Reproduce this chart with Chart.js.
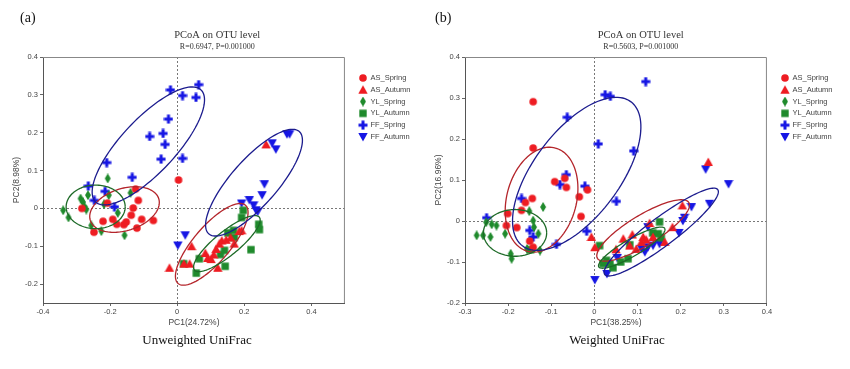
<!DOCTYPE html>
<html>
<head>
<meta charset="utf-8">
<script src="https://cdn.jsdelivr.net/npm/chart.js@4/dist/chart.umd.min.js"></script>
<style>
  body { margin: 0; background: #fff; width: 850px; height: 369px; position: relative; overflow: hidden; }
  .panel { position: absolute; top: 0; width: 425px; height: 369px; }
  .tag { position: absolute; top: 11px; font: 14px "Liberation Serif", serif; line-height: 1; color: #111; }
  .caption { position: absolute; top: 333px; width: 200px; text-align: center; font: 13px "Liberation Serif", serif; line-height: 1; color: #111; }
</style>
</head>
<body>
<div class="panel" style="left:0"><canvas id="chartA" width="425" height="369"></canvas></div>
<div class="panel" style="left:425px"><canvas id="chartB" width="425" height="369"></canvas></div>
<div class="tag" style="left:20px">(a)</div>
<div class="tag" style="left:435px">(b)</div>
<div class="caption" style="left:97px">Unweighted UniFrac</div>
<div class="caption" style="left:517px">Weighted UniFrac</div>
<script>
const groups = ['AS_Spring', 'AS_Autumn', 'YL_Spring', 'YL_Autumn', 'FF_Spring', 'FF_Autumn'];

// panel (a) unweighted UniFrac, [PC1, PC2]
const asSpringA = [[-0.284, 0.000], [-0.208, 0.014], [-0.124, 0.051], [-0.116, 0.021], [-0.131, 0.001], [-0.137, -0.018],
  [-0.106, -0.029], [-0.071, -0.032], [-0.221, -0.034], [-0.192, -0.029], [-0.180, -0.042], [-0.159, -0.043],
  [-0.152, -0.036], [-0.120, -0.052], [-0.248, -0.063], [0.004, 0.075]];
const asAutumnA = [[-0.023, -0.157], [0.043, -0.100], [0.020, -0.146], [0.037, -0.146], [0.084, -0.118], [0.091, -0.131],
  [0.101, -0.134], [0.109, -0.122], [0.121, -0.157], [0.116, -0.107], [0.126, -0.093], [0.133, -0.085],
  [0.146, -0.083], [0.159, -0.077], [0.170, -0.093], [0.185, -0.060], [0.192, -0.058], [0.265, 0.169]];
const ylSpringA = [[-0.340, -0.005], [-0.324, -0.024], [-0.288, 0.026], [-0.281, 0.017], [-0.276, 0.004], [-0.271, -0.003],
  [-0.266, 0.035], [-0.256, -0.045], [-0.226, -0.060], [-0.218, 0.011], [-0.207, 0.079], [-0.204, 0.035],
  [-0.177, -0.012], [-0.157, -0.071], [-0.139, 0.041]];
const ylAutumnA = [[0.019, -0.146], [0.057, -0.171], [0.066, -0.133], [0.141, -0.111], [0.143, -0.153], [0.129, -0.122],
  [0.151, -0.065], [0.168, -0.058], [0.170, -0.077], [0.192, -0.024], [0.197, -0.005], [0.220, -0.109],
  [0.243, -0.042], [0.245, -0.056]];
const ffSpringA = [[0.064, 0.327], [-0.020, 0.313], [0.016, 0.298], [0.056, 0.293], [-0.026, 0.236], [-0.082, 0.190],
  [-0.042, 0.198], [-0.036, 0.169], [-0.048, 0.130], [0.016, 0.132], [-0.210, 0.121], [-0.134, 0.082],
  [-0.265, 0.059], [-0.215, 0.045], [-0.247, 0.021], [-0.187, 0.004]];
const ffAutumnA = [[0.002, -0.098], [0.024, -0.071], [0.192, 0.013], [0.215, 0.022], [0.228, 0.008], [0.235, -0.005],
  [0.240, -0.009], [0.253, 0.035], [0.260, 0.064], [0.283, 0.172], [0.294, 0.156], [0.327, 0.196], [0.335, 0.196]];

// panel (b) weighted UniFrac
const asSpringB = [[-0.142, 0.291], [-0.142, 0.178], [-0.092, 0.096], [-0.069, 0.104], [-0.065, 0.082], [-0.016, 0.076],
  [-0.035, 0.059], [-0.031, 0.011], [-0.144, 0.055], [-0.160, 0.045], [-0.169, 0.026], [-0.201, 0.018],
  [-0.204, -0.011], [-0.180, -0.016], [-0.150, -0.049], [-0.142, -0.064]];
const asAutumnB = [[-0.007, -0.039], [0.001, -0.064], [0.050, -0.069], [0.067, -0.043], [0.088, -0.033], [0.097, -0.068],
  [0.109, -0.051], [0.113, -0.039], [0.128, -0.005], [0.136, -0.039], [0.163, -0.051], [0.181, -0.015],
  [0.204, 0.038], [0.264, 0.144], [0.082, -0.060], [0.120, -0.045]];
const ylSpringB = [[-0.273, -0.035], [-0.258, -0.035], [-0.241, -0.039], [-0.251, -0.003], [-0.238, -0.008], [-0.227, -0.011],
  [-0.207, -0.031], [-0.194, -0.080], [-0.192, -0.092], [-0.151, 0.024], [-0.142, 0.001], [-0.140, -0.015],
  [-0.130, -0.031], [-0.126, -0.072], [-0.119, 0.034], [-0.156, -0.068]];
const ylAutumnB = [[0.012, -0.060], [0.082, -0.058], [0.135, -0.029], [0.148, -0.031], [0.155, -0.041], [0.151, -0.002],
  [0.028, -0.096], [0.036, -0.104], [0.043, -0.114], [0.061, -0.100], [0.078, -0.092], [0.020, -0.104], [-0.148, -0.070]];
const ffSpringB = [[-0.250, 0.008], [-0.169, 0.055], [-0.150, -0.023], [-0.142, -0.039], [-0.088, -0.057], [-0.080, 0.089],
  [-0.065, 0.113], [-0.063, 0.253], [-0.022, 0.085], [0.009, 0.188], [0.025, 0.308], [0.037, 0.304],
  [0.051, 0.048], [0.091, 0.171], [0.119, 0.340], [-0.018, -0.025]];
const ffAutumnB = [[0.001, -0.144], [0.029, -0.129], [0.053, -0.090], [0.109, -0.068], [0.117, -0.076], [0.124, -0.064],
  [0.136, -0.060], [0.151, -0.056], [0.124, -0.015], [0.196, -0.029], [0.205, 0.000], [0.209, 0.008],
  [0.225, 0.034], [0.267, 0.042], [0.258, 0.126], [0.311, 0.090]];

// confidence ellipses: [centre x, centre y, half-axis 1 (x, y), half-axis 2 (x, y)]
const ellipsesA = [
  [-0.157, -0.003, 0.102, 0.0287, 0.0188, -0.053],
  [0.103, -0.095, 0.1004, 0.1034, 0.0405, -0.0312],
  [-0.243, 0.004, 0.088, 0, 0, 0.0575],
  [0.148, -0.093, 0.0968, 0.0698, 0.0224, -0.0248],
  [-0.086, 0.165, 0.157, 0.148, 0.0583, -0.0491],
  [0.229, 0.068, 0.135, 0.135, 0.0511, -0.0406]
];
const ellipsesB = [
  [-0.1225, 0.052, 0.032, 0.126, 0.078, -0.022],
  [0.113, -0.023, 0.106, 0.068, 0.018, -0.0314],
  [-0.184, -0.029, 0.0733, 0, 0, 0.057],
  [0.0866, -0.065, 0.0764, 0.0469, 0.0099, -0.018],
  [-0.041, 0.115, 0.1259, 0.1756, 0.0793, -0.0636],
  [0.155, -0.027, 0.131, 0.1035, 0.0194, -0.0275]
];

const xTicksA = [-0.4, -0.2, 0, 0.2, 0.4];
const xTicksB = [-0.3, -0.2, -0.1, 0, 0.1, 0.2, 0.3, 0.4];
const yTicks = [-0.2, -0.1, 0, 0.1, 0.2, 0.3, 0.4];

const shapes = ['circle', 'triangle', 'diamond', 'square', 'plus', 'down'];
const fills = ['#ee1c22', '#ee1c22', '#1f8a2c', '#1f8a2c', '#1616e4', '#1616e4'];
const ringColors = ['#b4252b', '#b4252b', '#1d6a27', '#1d6a27', '#1c1c8e', '#1c1c8e'];

function makeMarker(shape, color) {
  const c = document.createElement('canvas');
  c.width = 10; c.height = 10;
  const g = c.getContext('2d');
  g.fillStyle = color;
  g.beginPath();
  if (shape === 'circle') g.arc(5, 5, 3.8, 0, Math.PI * 2);
  else if (shape === 'triangle') { g.moveTo(5, 0.6); g.lineTo(9.7, 9); g.lineTo(0.3, 9); }
  else if (shape === 'down') { g.moveTo(0.3, 1); g.lineTo(9.7, 1); g.lineTo(5, 9.4); }
  else if (shape === 'diamond') { g.moveTo(5, 0); g.lineTo(8, 5); g.lineTo(5, 10); g.lineTo(2, 5); }
  else if (shape === 'square') g.rect(1.3, 1.3, 7.4, 7.4);
  else if (shape === 'plus') { g.rect(3.5, 0.5, 3, 9); g.rect(0.5, 3.5, 9, 3); }
  g.closePath();
  g.fill();
  return c;
}

const framePlugin = {
  id: 'frame',
  beforeDatasetsDraw(chart) {
    const { ctx, chartArea: a, scales: { x, y } } = chart;
    ctx.save();
    ctx.strokeStyle = '#777';
    ctx.lineWidth = 1;
    ctx.setLineDash([2, 2]);
    const x0 = Math.round(x.getPixelForValue(0)) + 0.5;
    const y0 = Math.round(y.getPixelForValue(0)) + 0.5;
    ctx.beginPath();
    ctx.moveTo(x0, a.top); ctx.lineTo(x0, a.bottom);
    ctx.moveTo(a.left, y0); ctx.lineTo(a.right, y0);
    ctx.stroke();
    ctx.setLineDash([]);
    ctx.strokeStyle = '#888';
    ctx.beginPath();
    ctx.moveTo(a.left, a.top + 0.5); ctx.lineTo(a.right - 0.5, a.top + 0.5); ctx.lineTo(a.right - 0.5, a.bottom);
    ctx.stroke();
    ctx.restore();
  }
};

function ringPlugin(rings) {
  return {
    id: 'rings',
    afterDatasetsDraw(chart) {
      const { ctx, chartArea: a, scales: { x, y } } = chart;
      ctx.save();
      ctx.beginPath();
      ctx.rect(a.left, a.top, a.width, a.height);
      ctx.clip();
      ctx.lineWidth = 1.3;
      rings.forEach((r, i) => {
        ctx.strokeStyle = ringColors[i];
        ctx.beginPath();
        for (let k = 0; k <= 120; k++) {
          const t = k / 120 * Math.PI * 2;
          const px = x.getPixelForValue(r[0] + r[2] * Math.cos(t) + r[4] * Math.sin(t));
          const py = y.getPixelForValue(r[1] + r[3] * Math.cos(t) + r[5] * Math.sin(t));
          if (k === 0) ctx.moveTo(px, py); else ctx.lineTo(px, py);
        }
        ctx.stroke();
      });
      ctx.restore();
    }
  };
}

const fmt = v => (v === 0 ? '0' : v.toFixed(1));

function buildChart(id, sets, rings, o) {
  return new Chart(document.getElementById(id), {
    type: 'scatter',
    data: {
      datasets: sets.map((pts, i) => ({
        label: groups[i],
        data: pts.map(p => ({ x: p[0], y: p[1] })),
        pointStyle: makeMarker(shapes[i], fills[i]),
        pointRadius: 4,
        pointHoverRadius: 4,
        backgroundColor: fills[i],
        borderColor: fills[i]
      }))
    },
    options: {
      responsive: false,
      animation: false,
      devicePixelRatio: 1,
      layout: { padding: { left: 14, right: o.rightPad, top: 0, bottom: 0 } },
      plugins: {
        title: {
          display: true, text: 'PCoA on OTU level', color: '#333',
          font: { family: 'Liberation Serif', size: 10.5, weight: 'normal' },
          padding: { top: 28.7, bottom: 0 }
        },
        subtitle: {
          display: true, text: o.stat, color: '#333',
          font: { family: 'Liberation Serif', size: 8 },
          padding: { top: 0.9, bottom: 5.2 }
        },
        legend: {
          position: 'right', align: 'start', fullSize: false,
          title: { display: true, text: '', font: { size: 1 }, padding: { top: 11.7, bottom: 0 } },
          labels: {
            usePointStyle: true, padding: 4.3, color: '#444',
            font: { family: 'Liberation Sans', size: 7.5 }
          }
        },
        tooltip: { enabled: false }
      },
      scales: {
        x: {
          type: 'linear', min: o.xMin, max: o.xMax,
          afterBuildTicks: s => { s.ticks = o.xTicks.map(v => ({ value: v })); },
          afterFit: s => { s.height = 66; },
          ticks: { callback: fmt, color: '#444', font: { family: 'Liberation Sans', size: 7.5 }, padding: 1, maxRotation: 0 },
          grid: { drawOnChartArea: false, tickLength: 3, color: '#666' },
          border: { color: '#555' },
          title: { display: true, text: o.xTitle, color: '#444', font: { family: 'Liberation Sans', size: 8.5 }, padding: { top: 0, bottom: 40.9 } }
        },
        y: {
          type: 'linear', min: o.yMin, max: o.yMax,
          afterBuildTicks: s => { s.ticks = yTicks.map(v => ({ value: v })); },
          afterFit: s => { s.width = o.left - 14; },
          ticks: { callback: fmt, color: '#444', font: { family: 'Liberation Sans', size: 7.5 }, padding: 2 },
          grid: { drawOnChartArea: false, tickLength: 3, color: '#666' },
          border: { color: '#555' },
          title: { display: true, text: o.yTitle, color: '#444', font: { family: 'Liberation Sans', size: 8.5 }, padding: { top: o.yTitlePad - 14, bottom: 0 } }
        },
        gap: {
          type: 'linear', position: 'right', display: true,
          afterFit: s => { s.width = 10; },
          ticks: { display: false },
          grid: { display: false, drawTicks: false },
          border: { display: false }
        }
      }
    },
    plugins: [framePlugin, ringPlugin(rings)]
  });
}

buildChart('chartA', [asSpringA, asAutumnA, ylSpringA, ylAutumnA, ffSpringA, ffAutumnA], ellipsesA, {
  stat: 'R=0.6947, P=0.001000', xTitle: 'PC1(24.72%)', yTitle: 'PC2(8.98%)',
  xMin: -0.4, xMax: 0.5, yMin: -0.25, yMax: 0.4, xTicks: xTicksA,
  left: 43, rightPad: 4.5, yTitlePad: 11.9
});
buildChart('chartB', [asSpringB, asAutumnB, ylSpringB, ylAutumnB, ffSpringB, ffAutumnB], ellipsesB, {
  stat: 'R=0.5603, P=0.001000', xTitle: 'PC1(38.25%)', yTitle: 'PC2(16.96%)',
  xMin: -0.3, xMax: 0.4, yMin: -0.2, yMax: 0.4, xTicks: xTicksB,
  left: 40, rightPad: 7.5, yTitlePad: 8.2
});
</script>
</body>
</html>
